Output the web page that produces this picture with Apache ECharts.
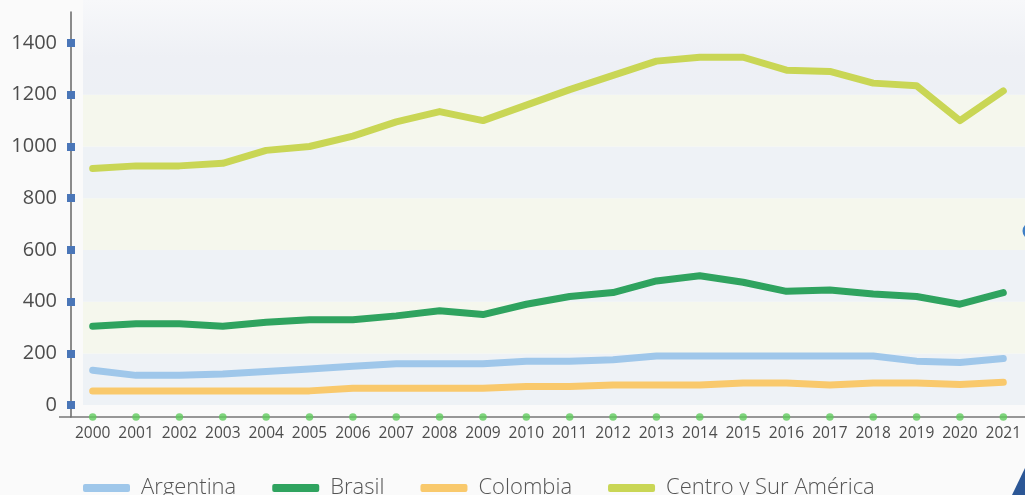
<!DOCTYPE html>
<html>
<head>
<meta charset="utf-8">
<script src="https://cdn.jsdelivr.net/npm/echarts@6/dist/echarts.min.js"></script>
<style>
  html, body { margin: 0; padding: 0; background: #fafafa; }
  #main { width: 1025px; height: 495px; }
</style>
</head>
<body>
<div id="main"></div>
<script>
const years = ['2000', '2001', '2002', '2003', '2004', '2005', '2006', '2007', '2008', '2009', '2010',
  '2011', '2012', '2013', '2014', '2015', '2016', '2017', '2018', '2019', '2020', '2021']
const yTicks = [0, 200, 400, 600, 800, 1000, 1200, 1400]
const yMin = -46
const yMax = 1520

const argentina = [135, 115, 115, 120, 130, 140, 150, 160, 160, 160, 170,
  170, 175, 190, 190, 190, 190, 190, 190, 170, 165, 180]
const brasil = [305, 315, 315, 305, 320, 330, 330, 345, 365, 350, 390,
  420, 435, 480, 500, 475, 440, 445, 430, 420, 390, 435]
const colombia = [55, 55, 55, 55, 55, 55, 65, 65, 65, 65, 72,
  72, 78, 78, 78, 85, 85, 78, 85, 85, 80, 88]
const centroSur = [915, 925, 925, 935, 985, 1000, 1040, 1095, 1135, 1100, 1160,
  1220, 1275, 1330, 1345, 1345, 1295, 1290, 1245, 1235, 1100, 1215]

const bandBlue = '#eef2f6'
const bandCream = '#f5f7ed'
// the top band fades out towards the top edge
const bandTop = new echarts.graphic.LinearGradient(0, 0, 0, 1, [
  { offset: 0, color: '#f7f8fa' },
  { offset: 0.6, color: '#eef0f5' },
  { offset: 1, color: '#edf0f5' }
])

const myChart = echarts.init(document.getElementById('main'))

// alternating background bands, each 200 tall
const bands = []
for (let i = 0; i < yTicks.length - 1; i++) {
  const top = i === yTicks.length - 2
  bands.push([
    {
      yAxis: yTicks[i],
      x: 83,
      itemStyle: { color: top ? bandTop : (i % 2 === 0 ? bandBlue : bandCream) }
    },
    top ? { y: 0, x: 1030 } : { yAxis: yTicks[i + 1], x: 1030 }
  ])
}

function lineSeries (name, data, color) {
  return {
    name: name,
    type: 'line',
    data: data,
    symbol: 'none',
    lineStyle: { width: 7, color: color, cap: 'round', join: 'round' },
    itemStyle: { color: color },
    z: 3
  }
}

const series = [
  lineSeries('Argentina', argentina, '#9fc7ea'),
  lineSeries('Brasil', brasil, '#2fa35f'),
  lineSeries('Colombia', colombia, '#f9c96c'),
  lineSeries('Centro y Sur América', centroSur, '#c9d655'),
  {
    // green dots sitting on the x axis line
    name: 'dots',
    type: 'scatter',
    data: years.map(() => yMin),
    symbol: 'circle',
    symbolSize: 7.5,
    itemStyle: { color: '#5fcb5c' },
    clip: false,
    silent: true,
    z: 5
  }
]
series[0].markArea = { silent: true, z: 1, data: bands }

const yAxisBase = {
  type: 'value',
  min: yMin,
  max: yMax,
  splitLine: { show: false }
}

const option = {
  backgroundColor: '#fafafa',
  animation: false,
  grid: { left: 71, right: -6, top: 12, bottom: 78 },
  legend: {
    left: 78,
    top: 472,
    itemWidth: 47,
    itemHeight: 8,
    itemGap: 36,
    icon: 'roundRect',
    textStyle: {
      fontFamily: 'Open Sans',
      fontWeight: 300,
      fontSize: 22,
      color: '#555',
      padding: [0, 0, 0, 6]
    },
    data: ['Argentina', 'Brasil', 'Colombia', 'Centro y Sur América']
  },
  xAxis: {
    type: 'category',
    data: years,
    boundaryGap: true,
    axisLine: { onZero: false, lineStyle: { color: '#777', width: 1.5 } },
    axisTick: { show: false },
    axisLabel: {
      interval: 0,
      margin: 9,
      fontFamily: 'Open Sans',
      fontSize: 15.5,
      color: '#4d4d4d'
    }
  },
  yAxis: [
    Object.assign({}, yAxisBase, {
      axisLine: { show: true, lineStyle: { color: '#666', width: 1.5 } },
      axisTick: {
        show: true,
        customValues: yTicks,
        length: 4,
        lineStyle: { color: '#4a76b8', width: 8 }
      },
      axisLabel: {
        customValues: yTicks,
        margin: 14,
        fontFamily: 'Open Sans',
        fontSize: 20,
        color: '#4d4d4d',
        formatter: v => String(v)
      }
    }),
    Object.assign({}, yAxisBase, {
      position: 'left',
      axisLine: { show: false },
      axisTick: {
        show: true,
        inside: true,
        customValues: yTicks,
        length: 4,
        lineStyle: { color: '#4a76b8', width: 8 }
      },
      axisLabel: { show: false }
    })
  ],
  graphic: [
    {
      type: 'line',
      shape: { x1: 59, y1: 417, x2: 71, y2: 417 },
      style: { stroke: '#777', lineWidth: 1.5 }
    },
    {
      type: 'circle',
      shape: { cx: 1031, cy: 231, r: 8.5 },
      style: { fill: '#3f7fc6' },
      z: 10
    },
    {
      type: 'polygon',
      shape: { points: [[1025, 468], [1012, 495], [1025, 495]] },
      style: { fill: '#2c5796' },
      z: 10
    }
  ],
  series: series
}

myChart.setOption(option)
</script>
</body>
</html>
